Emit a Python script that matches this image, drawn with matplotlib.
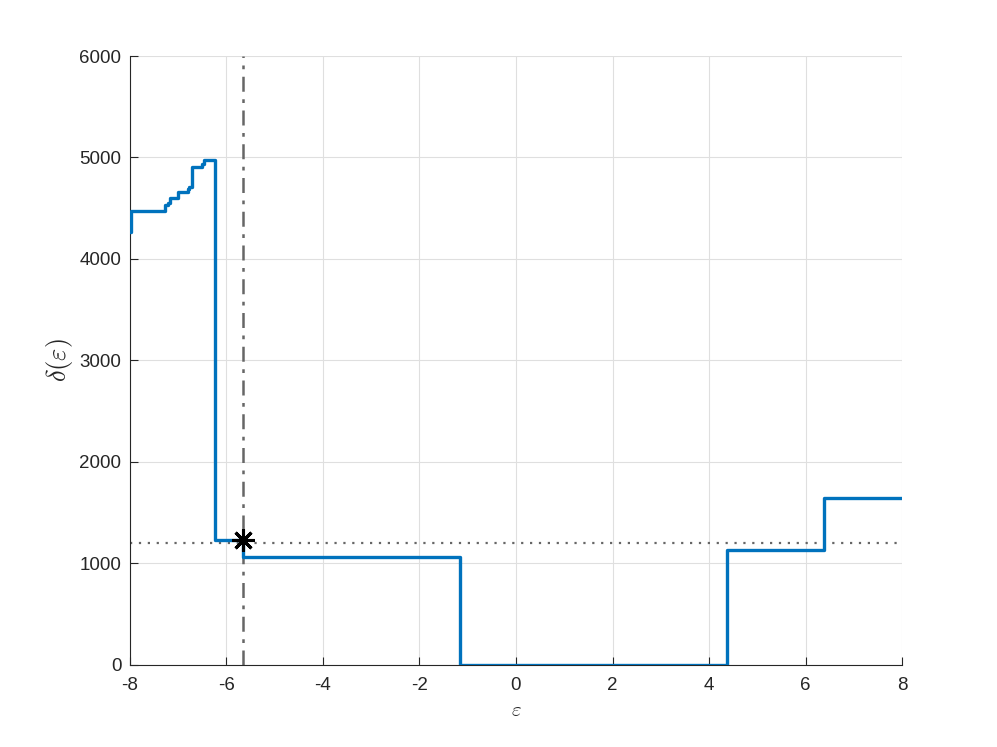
import matplotlib
matplotlib.use("Agg")
import matplotlib.pyplot as plt

# Data
eps_breaks = [-8.00, -7.97, -7.27, -7.21, -7.16, -7.00, -6.80, -6.76, -6.70,
              -6.50, -6.45, -6.23, -5.66, -1.16, 4.36, 6.38, 8.00]
delta_vals = [4270, 4476, 4530, 4555, 4598, 4655, 4690, 4706, 4905,
              4940, 4975, 1230, 1060, 0, 1130, 1642, 1642]
eps_star = -5.66
delta_star = 1230
threshold = 1200

xticks = [-8, -6, -4, -2, 0, 2, 4, 6, 8]
yticks = [0, 1000, 2000, 3000, 4000, 5000, 6000]

plt.rcParams['font.family'] = ['Liberation Sans', 'DejaVu Sans']
plt.rcParams['mathtext.fontset'] = 'cm'

fig = plt.figure(figsize=(9.97, 7.47), dpi=100)
ax = fig.add_axes([0.13, 0.11, 0.775, 0.815])

ax.step(eps_breaks, delta_vals, where='post', color=(0, 0.447, 0.741), lw=2.4, zorder=3)
ax.axhline(threshold, color=(0.4, 0.4, 0.4), ls=(0, (1, 3)), lw=1.6, zorder=2)
ax.axvline(eps_star, color=(0.4, 0.4, 0.4), ls=(0, (6, 3, 1.5, 3)), lw=1.8, zorder=2)
ax.plot([eps_star], [delta_star], marker=(8, 2, 0), color='k', ms=16, mew=2.2, zorder=4, ls='none')

ax.set_xlim(-8, 8)
ax.set_ylim(0, 6000)
ax.set_xticks(xticks)
ax.set_yticks(yticks)
ax.set_xticklabels([str(v) for v in xticks])
ax.set_yticklabels([str(v) for v in yticks])

ax.grid(True, color='#dfdfdf', lw=0.8)
ax.set_axisbelow(True)
for s in ['top', 'right']:
    ax.spines[s].set_visible(False)
for s in ['left', 'bottom']:
    ax.spines[s].set_color('#262626')
    ax.spines[s].set_linewidth(0.8)
ax.tick_params(direction='in', length=5.5, width=0.8, colors='#262626',
               labelsize=13.5, labelcolor='#262626')
ax.tick_params(axis='x', pad=9)
ax.tick_params(axis='y', pad=6)

ax.set_xlabel(r'$\varepsilon$', fontsize=15, color='#262626', labelpad=5)
ax.set_ylabel(r'$\delta(\varepsilon)$', fontsize=19, color='#262626', labelpad=3)

fig.savefig('out.png', dpi=100)
